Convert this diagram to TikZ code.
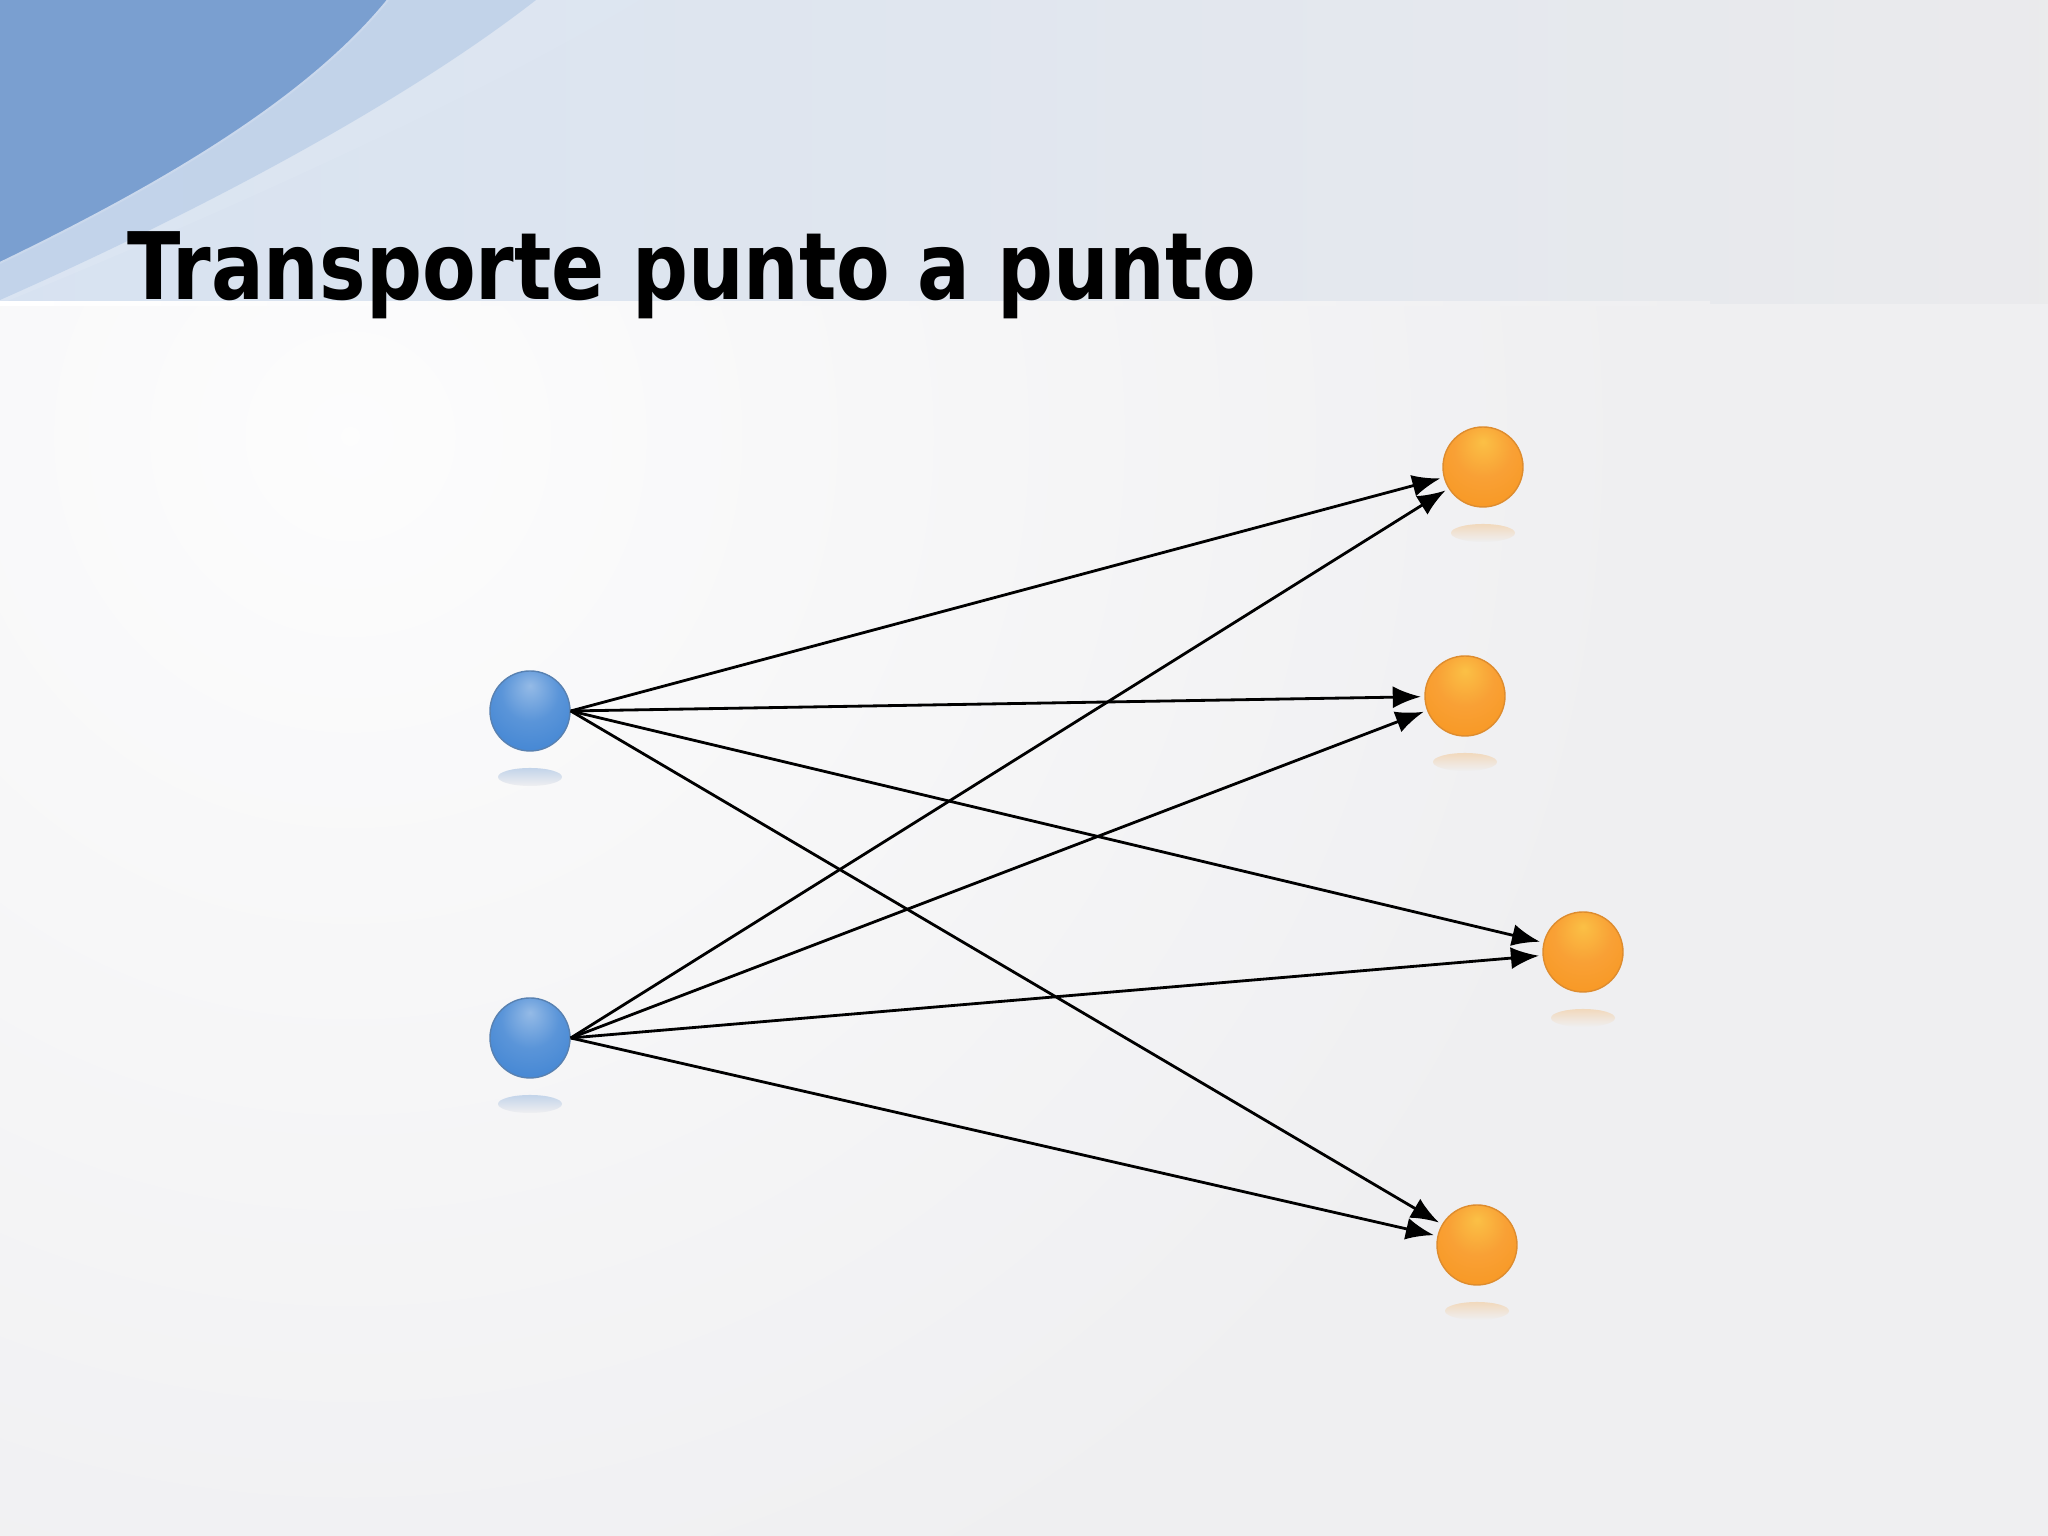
\documentclass[tikz,border=0pt]{standalone}
\usepackage{fontspec}
\newfontfamily\titlefont[FakeStretch=0.84]{DejaVu Sans}
\usetikzlibrary{arrows.meta}
\definecolor{fondo}{HTML}{EFEFF1}
\definecolor{bandamedia}{HTML}{E7E9F0}
\definecolor{azul}{HTML}{3D82D2}
\definecolor{naranja}{HTML}{F8961F}
\definecolor{swoosh}{HTML}{7A9FD0}
\pgfdeclareradialshading{bolaazul}{\pgfpoint{0bp}{16bp}}{color(0bp)=(azul!55!white); color(18bp)=(azul!85!white); color(40bp)=(azul); color(62bp)=(azul!85!black); color(66bp)=(azul!70!black)}
\pgfdeclareradialshading{bolanaranja}{\pgfpoint{0bp}{16bp}}{color(0bp)=(naranja!75!yellow!80!white); color(18bp)=(naranja!90!white); color(40bp)=(naranja); color(62bp)=(naranja!90!red!92!black); color(66bp)=(naranja!80!black)}
\tikzset{
  origen/.style={circle,minimum size=0.8cm,inner sep=0pt,shading=bolaazul,draw=azul!60!gray,line width=0.4pt},
  destino/.style={circle,minimum size=0.8cm,inner sep=0pt,shading=bolanaranja,draw=naranja!55!brown,line width=0.4pt},
  flecha/.style={-{Latex[length=2.8mm,width=2.2mm]},line width=0.8pt,shorten >=1pt}
}
\begin{document}
\begin{tikzpicture}
  \useasboundingbox (0,0) rectangle (20.48,15.36);
  % fondo
  \begin{scope}
    \clip (0,0) rectangle (20.48,12.32);
    \fill[fondo] (0,0) rectangle (20.48,12.32);
    \shade[inner color=white!85!fondo,outer color=fondo] (3.5,11) circle (13);
  \end{scope}
  \shade[left color=swoosh!30!white,middle color=bandamedia,right color=fondo!96!gray] (0,12.32) rectangle (20.48,15.36);
  \fill[swoosh!25!white,opacity=0.5] (0,12.32) .. controls (2.4,13.3) and (4.8,14.4) .. (6.4,15.36) -- (0,15.36) -- cycle;
  \fill[swoosh!50!white,opacity=0.8] (0,12.36) .. controls (1.9,13.2) and (4.0,14.3) .. (5.36,15.36) -- (0,15.36) -- cycle;
  \fill[swoosh] (0,12.73) .. controls (1.7,13.55) and (3.1,14.4) .. (3.88,15.36) -- (0,15.36) -- cycle;
  \draw[swoosh!40!white,line width=0.6pt] (0,12.73) .. controls (1.7,13.55) and (3.1,14.4) .. (3.88,15.36);
  \shade[left color=white,right color=fondo] (0,12.30) rectangle (17.1,12.34);
  % titulo
  \node (titulo) [anchor=base west,inner sep=0pt] at (1.27,12.36)
    {\titlefont\bfseries\fontsize{26.5}{30}\selectfont Transporte punto a punto};
  % reflejos
  \foreach \x/\y/\c in {5.30/8.25/azul,5.30/4.98/azul,14.83/10.69/naranja,14.65/8.40/naranja,15.83/5.84/naranja,14.77/2.91/naranja}
    \shade[top color=\c!25!fondo,bottom color=fondo] (\x,\y-0.66) ellipse (0.32 and 0.09);
  % nodos
  \draw
    (5.30,8.25) node[origen] (b1){}
    (5.30,4.98) node[origen] (b2){}
    (14.83,10.69) node[destino] (o1){}
    (14.65,8.40) node[destino] (o2){}
    (15.83,5.84) node[destino] (o3){}
    (14.77,2.91) node[destino] (o4){};
  \begin{scope}[flecha]
    \draw (b1.east) to (o1);
    \draw (b1.east) to (o2);
    \draw (b1.east) to (o3);
    \draw (b1.east) to (o4);
    \draw (b2.east) to (o1);
    \draw (b2.east) to (o2);
    \draw (b2.east) to (o3);
    \draw (b2.east) to (o4);
  \end{scope}
\end{tikzpicture}
\end{document}
